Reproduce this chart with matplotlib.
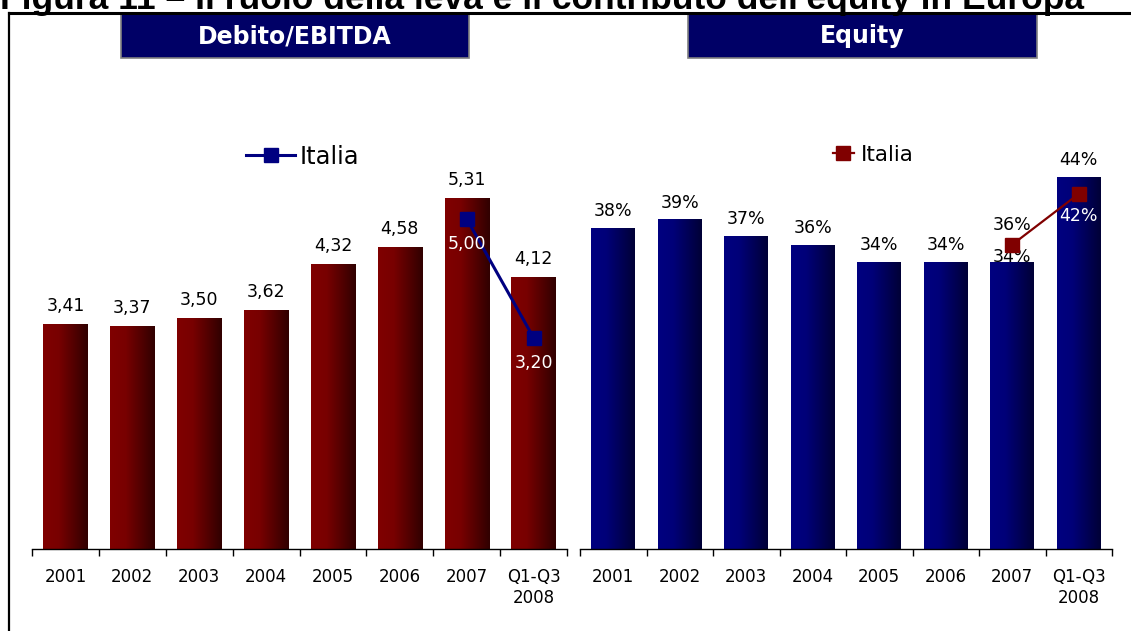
import numpy as np
import matplotlib
matplotlib.use("Agg")
import matplotlib.pyplot as plt
from matplotlib.colors import LinearSegmentedColormap
from matplotlib.lines import Line2D
from matplotlib.patches import Rectangle

categories = ["2001", "2002", "2003", "2004", "2005", "2006", "2007", "Q1-Q3\n2008"]
debt_ebitda = [3.41, 3.37, 3.50, 3.62, 4.32, 4.58, 5.31, 4.12]
italy_debt = [None, None, None, None, None, None, 5.00, 3.20]
equity = [38, 39, 37, 36, 34, 34, 34, 44]
italy_equity = [None, None, None, None, None, None, 36, 42]

title = "Figura 11 \u2013 Il ruolo della leva e il contributo dell'equity in Europa"

plt.rcParams["font.family"] = ["DejaVu Sans"]

red_cmap = LinearSegmentedColormap.from_list(
    "red_grad", [(0, "#800000"), (0.35, "#780000"), (1, "#300000")])
navy_cmap = LinearSegmentedColormap.from_list(
    "navy_grad", [(0, "#000080"), (0.35, "#000078"), (1, "#000036")])


def gradient_bars(ax, x, values, cmap):
    bars = ax.bar(x, values, width=0.66, color="none", edgecolor="none")
    grad = np.linspace(0, 1, 256).reshape(1, -1)
    for b in bars:
        x0, y0 = b.get_x(), b.get_y()
        w, h = b.get_width(), b.get_height()
        im = ax.imshow(grad, cmap=cmap, aspect="auto",
                       extent=(x0, x0 + w, y0, y0 + h), zorder=2)
        im.set_clip_path(b)
    return bars


def setup_axis(ax, ymax):
    n = len(categories)
    ax.set_xlim(-0.5, n - 0.5)
    ax.set_ylim(0, ymax)
    for s in ["left", "right", "top"]:
        ax.spines[s].set_visible(False)
    ax.spines["bottom"].set_linewidth(1.0)
    ax.set_yticks([])
    ax.set_xticks(np.arange(n + 1) - 0.5)
    ax.set_xticklabels([])
    ax.tick_params(axis="x", which="major", direction="out", length=5, width=1)
    ax.set_xticks(np.arange(n), minor=True)
    ax.set_xticklabels(categories, minor=True, fontsize=12)
    ax.tick_params(axis="x", which="minor", length=0, pad=14)


fig = plt.figure(figsize=(11.31, 6.31), dpi=100)

# frame lines
fig.add_artist(Line2D([9 / 1131, 9 / 1131], [0, 1 - 13 / 631], color="black", lw=1.6))
fig.add_artist(Line2D([9 / 1131, 1], [1 - 13 / 631, 1 - 13 / 631], color="black", lw=2.2))
fig.text(0.0, 1 - 9 / 631, title, fontsize=25.5, fontweight="bold", family="Liberation Sans",
         va="baseline", ha="left")

x = np.arange(len(categories))

# left panel: Debito/EBITDA
ax1 = fig.add_axes([32 / 1131, 82 / 631, 535 / 1131, 449 / 631])
setup_axis(ax1, 6.80)
gradient_bars(ax1, x, debt_ebitda, red_cmap)
for xi, v in zip(x, debt_ebitda):
    ax1.annotate(f"{v:.2f}".replace(".", ","), (xi, v), xytext=(0, 13),
                 textcoords="offset points", ha="center", va="center", fontsize=12.5)
xi_it = [i for i, v in enumerate(italy_debt) if v is not None]
yi_it = [v for v in italy_debt if v is not None]
ax1.plot(xi_it, yi_it, color="#000080", lw=2.2, marker="s", markersize=10, zorder=3)
for xi, v in zip(xi_it, yi_it):
    ax1.annotate(f"{v:.2f}".replace(".", ","), (xi, v), xytext=(0, -18),
                 textcoords="offset points", ha="center", va="center",
                 fontsize=12.5, color="white", zorder=4)
ax1.legend(handles=[Line2D([], [], color="#000080", lw=2.2, marker="s", markersize=10)],
           labels=["Italia"], loc="center", bbox_to_anchor=((303 - 32) / 535, (549 - 157) / 449),
           frameon=False, fontsize=17.5, handlelength=2.0, handletextpad=0.2)

# right panel: Equity
ax2 = fig.add_axes([580 / 1131, 82 / 631, 532 / 1131, 449 / 631])
setup_axis(ax2, 53.1)
gradient_bars(ax2, x, equity, navy_cmap)
for xi, v in zip(x, equity):
    off = 3 if xi == 6 else 12
    ax2.annotate(f"{v:.0f}%", (xi, v), xytext=(0, off),
                 textcoords="offset points", ha="center", va="center", fontsize=12.5)
xi_it = [i for i, v in enumerate(italy_equity) if v is not None]
yi_it = [v for v in italy_equity if v is not None]
ax2.plot(xi_it, yi_it, color="#800000", lw=1.6, marker="s", markersize=10, zorder=3)
ax2.annotate(f"{yi_it[0]:.0f}%", (xi_it[0], yi_it[0]), xytext=(0, 14),
             textcoords="offset points", ha="center", va="center", fontsize=12.5, zorder=4)
ax2.annotate(f"{yi_it[1]:.0f}%", (xi_it[1], yi_it[1]), xytext=(0, -16),
             textcoords="offset points", ha="center", va="center", fontsize=12.5,
             color="white", zorder=4)
ax2.legend(handles=[Line2D([], [], color="#800000", lw=1.6, marker="s", markersize=10)],
           labels=["Italia"], loc="center", bbox_to_anchor=((873 - 580) / 532, (549 - 155) / 449),
           frameon=False, fontsize=15.5, handlelength=1.0, handletextpad=0.3)

# header boxes
for (x0, x1, label) in [(121, 469, "Debito/EBITDA"), (688, 1037, "Equity")]:
    fig.add_artist(Rectangle((x0 / 1131, 1 - 58 / 631), (x1 - x0) / 1131, 44 / 631,
                             transform=fig.transFigure, facecolor="#000066",
                             edgecolor="#808080", lw=1.2))
    fig.text((x0 + x1) / 2 / 1131, 1 - 36 / 631, label, color="white", fontsize=17,
             fontweight="bold", ha="center", va="center")

fig.savefig("out.png", dpi=100)
